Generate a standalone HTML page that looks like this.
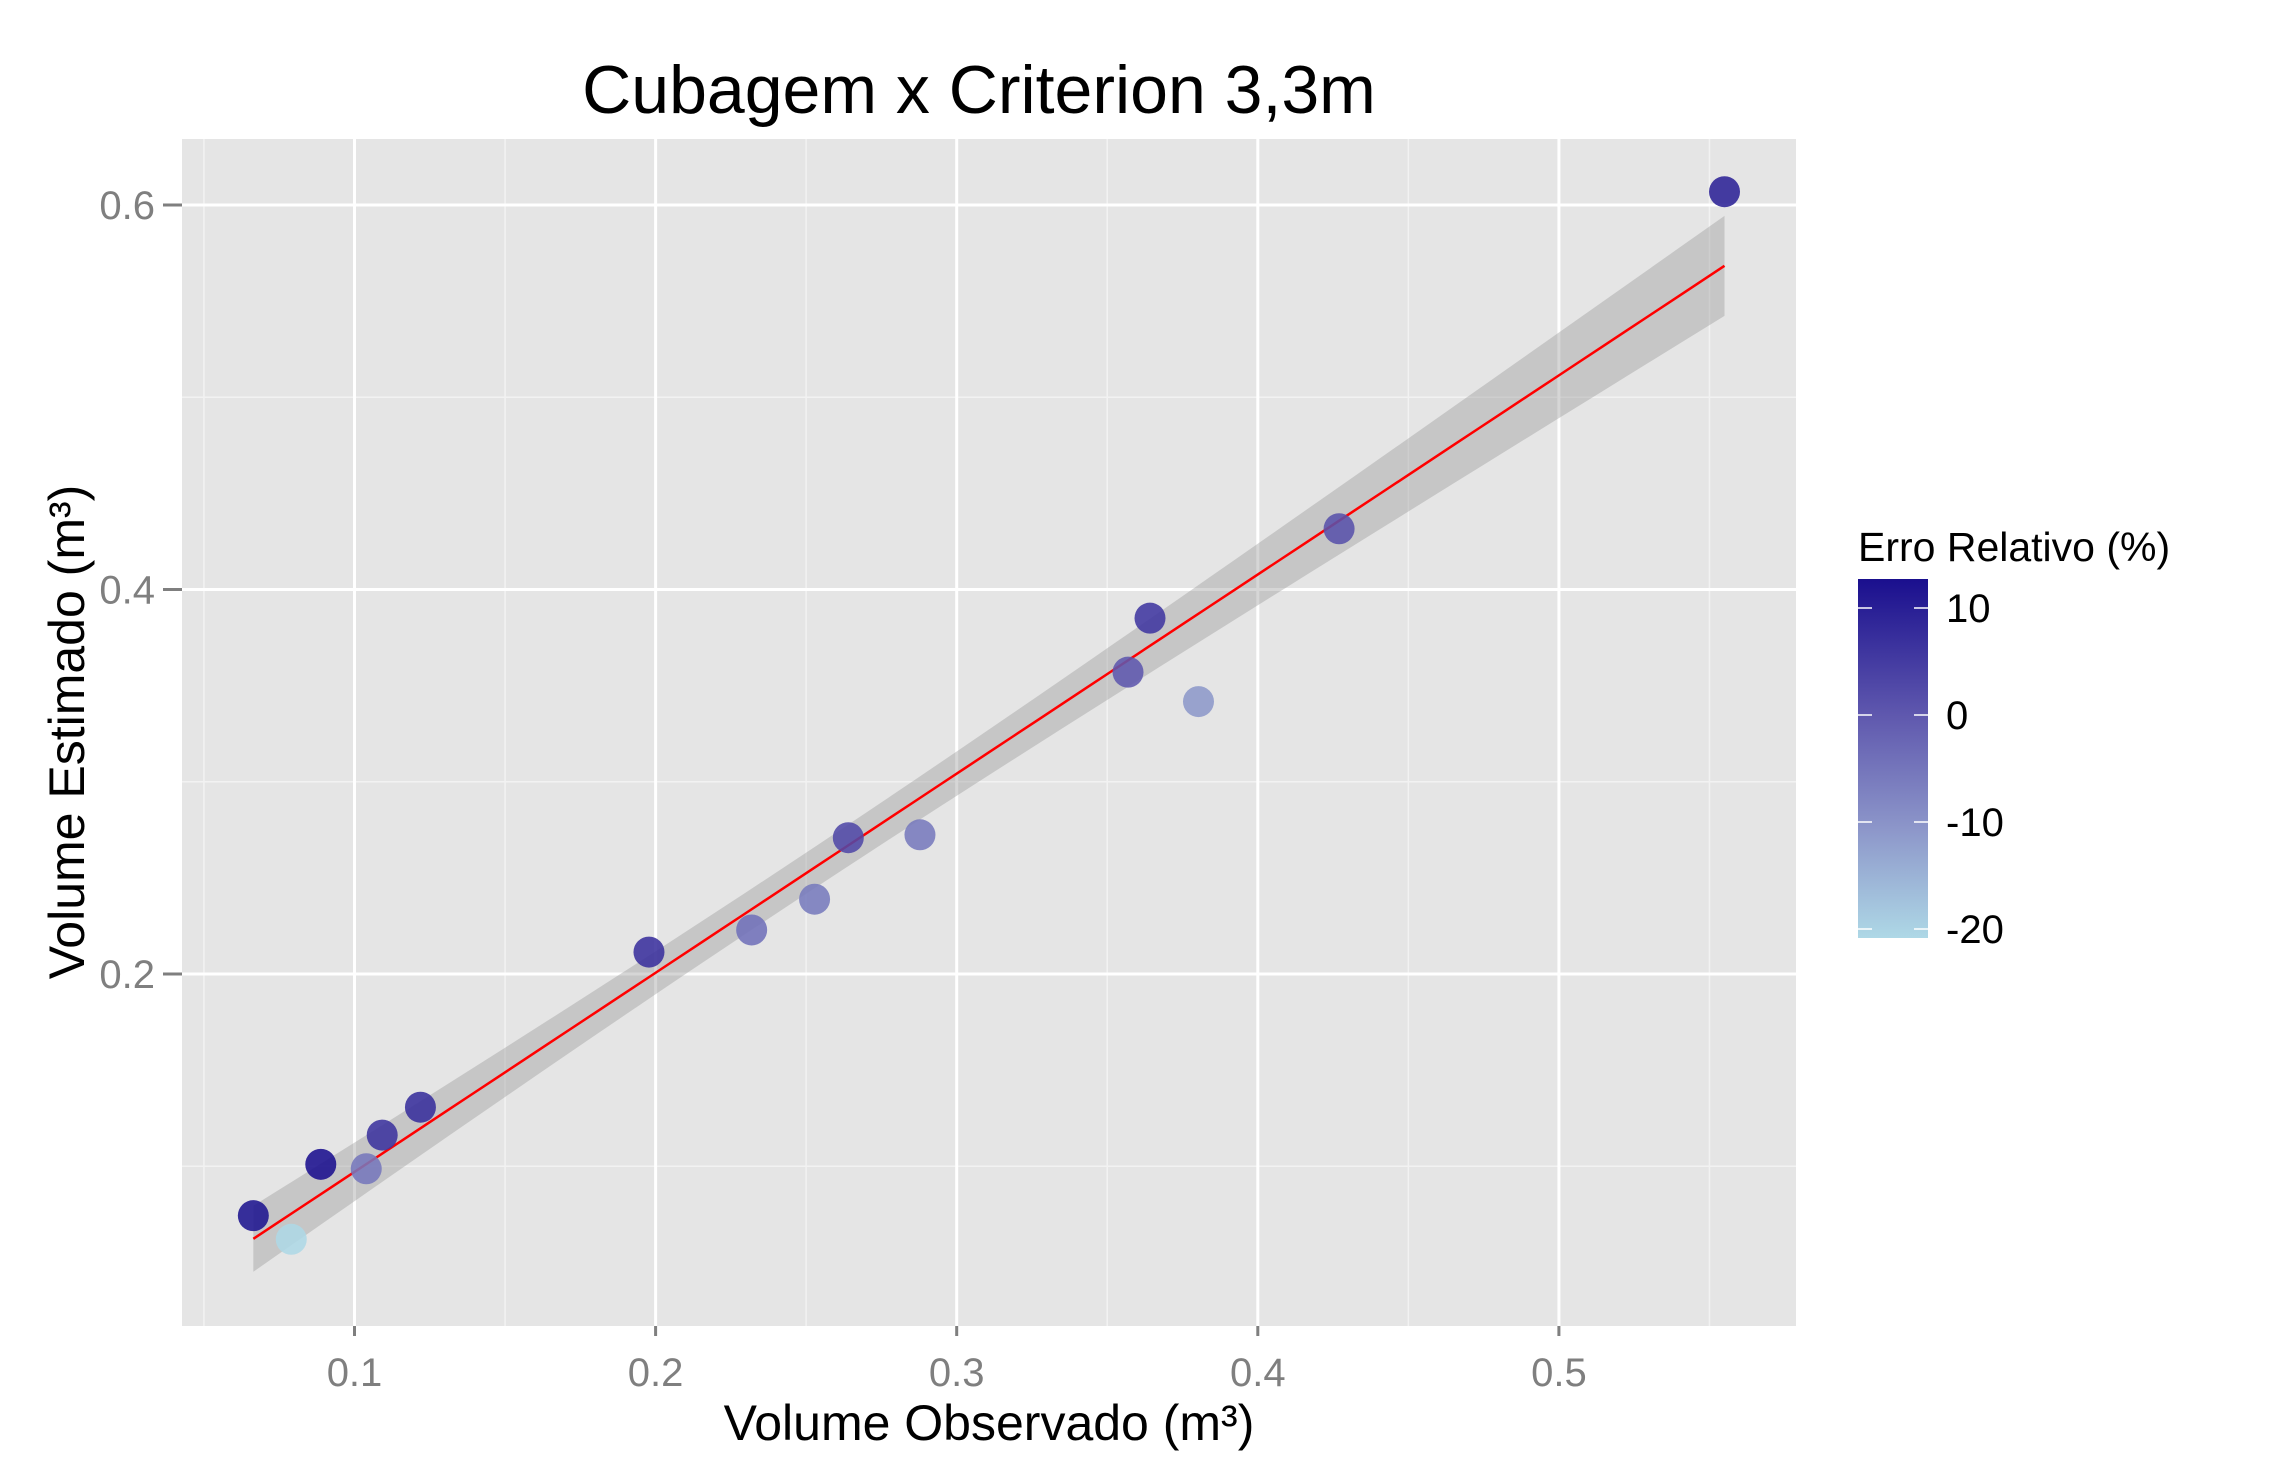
<!DOCTYPE html>
<html><head><meta charset="utf-8"><style>
html,body{margin:0;padding:0;background:#fff;}
svg{display:block;font-family:"Liberation Sans",Arial,sans-serif;}
</style></head><body>
<svg id="chart" width="2295" height="1483" viewBox="0 0 2295 1483">
<defs>
<linearGradient id="lg" x1="0" y1="0" x2="0" y2="1">
<stop offset="0" stop-color="#1a0f8e"/><stop offset="0.38" stop-color="#5f58ae"/><stop offset="0.7" stop-color="#8d97ca"/><stop offset="1" stop-color="#aed8e6"/>
</linearGradient>
</defs>
<text x="979" y="113" text-anchor="middle" font-size="68" fill="#000">Cubagem x Criterion 3,3m</text>
<rect x="182" y="139" width="1614" height="1187" fill="#e5e5e5"/>
<g id="grid"></g>
<g id="band"></g>
<g id="pts"></g>
<g id="axes"></g>
<text x="989" y="1440" text-anchor="middle" font-size="50" fill="#000">Volume Observado (m³)</text>
<text transform="translate(84,732) rotate(-90)" text-anchor="middle" font-size="50" fill="#000">Volume Estimado (m³)</text>
<g>
<text x="1858" y="561" font-size="41" fill="#000">Erro Relativo (%)</text>
<rect x="1858" y="579" width="70" height="359" fill="url(#lg)"/>
<g id="leg"></g>
</g>
</svg>
<script>
const obs = [0.0664,0.079,0.0888,0.1039,0.1092,0.1219,0.1978,0.2319,0.2528,0.264,0.2878,0.3569,0.3642,0.3803,0.427,0.555];
const est = [0.0743,0.062,0.101,0.0987,0.1162,0.1307,0.2114,0.2229,0.2389,0.2709,0.2724,0.357,0.3851,0.3417,0.4316,0.6069];
const err = [11.9,-21.5,13.7,-5.0,6.4,7.2,6.9,-3.9,-5.5,2.6,-5.4,0.0,5.7,-10.1,1.1,9.4];
const xTicks = [0.1,0.2,0.3,0.4,0.5];
const yTicks = [0.2,0.4,0.6];
const legTicks = [10,0,-10,-20];
const NS='http://www.w3.org/2000/svg';
const X = v => 354.5 + (v-0.1)*3011;
const Y = v => 974 - (v-0.2)*1922.5;
const LY = v => 715 - v*10.7;
function mk(tag, attrs, parent){const e=document.createElementNS(NS,tag);for(const k in attrs)e.setAttribute(k,attrs[k]);parent.appendChild(e);return e;}
const grid=document.getElementById('grid'),band=document.getElementById('band'),pts=document.getElementById('pts'),axes=document.getElementById('axes'),leg=document.getElementById('leg');
[0.05,0.15,0.25,0.35,0.45,0.55].forEach(v=>{const l=mk('line',{x1:X(v),x2:X(v),y1:139,y2:1326,stroke:'#f2f2f2','stroke-width':1.5},grid);

});
[0.1,0.3,0.5].forEach(v=>{const l=mk('line',{x1:182,x2:1796,y1:Y(v),y2:Y(v),stroke:'#f2f2f2','stroke-width':1.5},grid);

});
xTicks.forEach(v=>{const l=mk('line',{x1:X(v),x2:X(v),y1:139,y2:1326,stroke:'#fff','stroke-width':3},grid);


const t=mk('line',{x1:X(v),x2:X(v),y1:1326,y2:1336,stroke:'#7f7f7f','stroke-width':3},axes);


const tx=mk('text',{x:X(v),y:1386,'text-anchor':'middle','font-size':40,fill:'#7f7f7f'},axes);tx.textContent=String(v);

});
yTicks.forEach(v=>{const l=mk('line',{x1:182,x2:1796,y1:Y(v),y2:Y(v),stroke:'#fff','stroke-width':3},grid);


const t=mk('line',{x1:163,x2:182,y1:Y(v),y2:Y(v),stroke:'#7f7f7f','stroke-width':3},axes);


const tx=mk('text',{x:155,y:Y(v)+14,'text-anchor':'end','font-size':40,fill:'#7f7f7f'},axes);tx.textContent=v.toFixed(1);

});
const n=obs.length,xm=obs.reduce((a,b)=>a+b)/n,ym=est.reduce((a,b)=>a+b)/n;
let sxx=0,sxy=0;for(let i=0;i<n;i++){sxx+=(obs[i]-xm)**2;sxy+=(obs[i]-xm)*(est[i]-ym);}
const b=sxy/sxx,a=ym-b*xm;let sse=0;for(let i=0;i<n;i++)sse+=(est[i]-a-b*obs[i])**2;
const s=Math.sqrt(sse/(n-2)),tq=2.145;
const xmin=Math.min(...obs),xmax=Math.max(...obs);const up=[],lo=[],mid=[];
for(let k=0;k<=60;k++){const x=xmin+(xmax-xmin)*k/60;const y=a+b*x;const se=tq*s*Math.sqrt(1/n+(x-xm)**2/sxx);
up.push(X(x)+','+Y(y+se));lo.push(X(x)+','+Y(y-se));mid.push(X(x)+','+Y(y));}
const poly=mk('polygon',{points:up.concat(lo.reverse()).join(' '),fill:'#999','fill-opacity':0.4},band);


const rl=mk('polyline',{points:mid.join(' '),fill:'none',stroke:'#ff0000','stroke-width':2.5},band);


const stops=[[12.7,[26,15,142]],[0,[95,88,174]],[-10,[141,151,202]],[-20.8,[174,216,230]]];
function col(v){if(v>=stops[0][0])return 'rgb('+stops[0][1]+')';for(let i=0;i<stops.length-1;i++){const [v0,c0]=stops[i],[v1,c1]=stops[i+1];if(v<=v0&&v>=v1){const t=(v0-v)/(v0-v1);return 'rgb('+c0.map((c,j)=>Math.round(c+(c1[j]-c)*t)).join(',')+')';}}return 'rgb('+stops[3][1]+')';}
for(let i=0;i<n;i++){const c=mk('circle',{cx:X(obs[i]),cy:Y(est[i]),r:15.5,fill:col(err[i]),'fill-opacity':0.88},pts);

}
legTicks.forEach(v=>{const y=LY(v);
const t1=mk('line',{x1:1858,x2:1872,y1:y,y2:y,stroke:'#fff','stroke-width':1.5},leg);


const t2=mk('line',{x1:1914,x2:1928,y1:y,y2:y,stroke:'#fff','stroke-width':1.5},leg);


const tx=mk('text',{x:1946,y:y+14,'font-size':40,fill:'#000'},leg);tx.textContent=String(v);

});
</script>
</body></html>
